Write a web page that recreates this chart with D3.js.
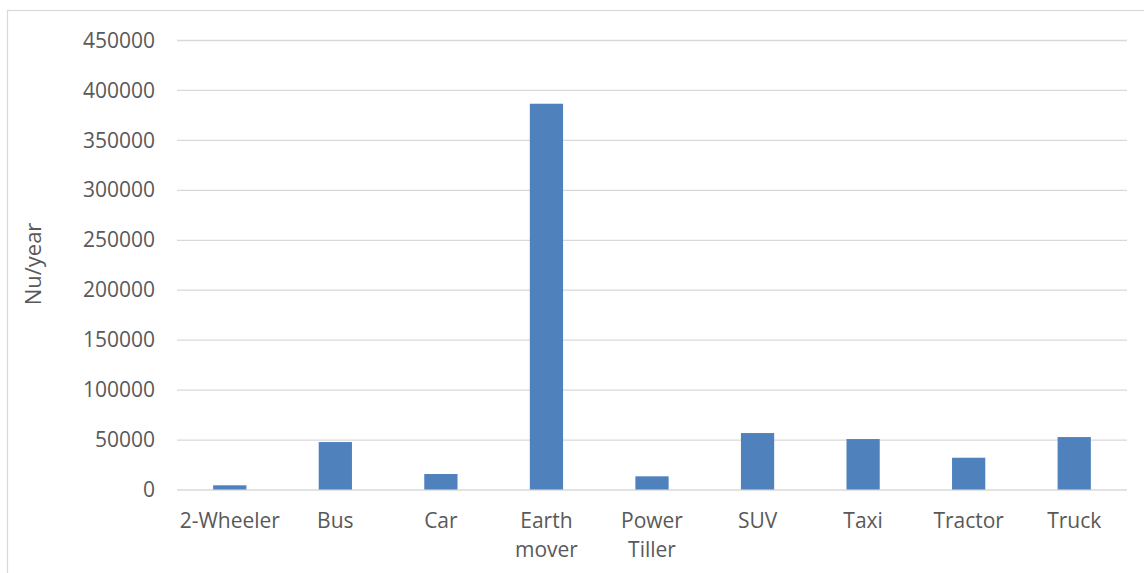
<!DOCTYPE html>
<html>
<head>
<meta charset="utf-8">
<script src="https://cdn.jsdelivr.net/npm/d3@7"></script>
<style>
  html, body { margin: 0; padding: 0; background: #fff; }
  svg { display: block; }
  text { font-family: "Open Sans", "Noto Sans", sans-serif; fill: #595959; }
</style>
</head>
<body>
<svg id="chart" width="1144" height="573"></svg>
<script>
// Annual cost per vehicle type (Nu/year)
const categories = ["2-Wheeler", "Bus", "Car", "Earth mover", "Power Tiller", "SUV", "Taxi", "Tractor", "Truck"];
const categoryLines = [["2-Wheeler"], ["Bus"], ["Car"], ["Earth", "mover"], ["Power", "Tiller"], ["SUV"], ["Taxi"], ["Tractor"], ["Truck"]];
const values = [4200, 47500, 15500, 386200, 13200, 56500, 50500, 31800, 52500];
const yTicks = [0, 50000, 100000, 150000, 200000, 250000, 300000, 350000, 400000, 450000];
const yTitle = "Nu/year";

const svg = d3.select("#chart");

// chart frame
svg.append("rect")
  .attr("x", 7.5).attr("y", 10.5)
  .attr("width", 1200).attr("height", 600)
  .attr("fill", "none").attr("stroke", "#d9d9d9").attr("stroke-width", 1.2);

const plot = { left: 177, right: 1127, top: 40, bottom: 489.5 };

const x = d3.scaleBand()
  .domain(categories)
  .range([plot.left, plot.right])
  .paddingInner(0.685)
  .paddingOuter(0.3425);

const y = d3.scaleLinear()
  .domain([0, 450000])
  .range([plot.bottom, plot.top]);

// gridlines
const yAxis = d3.axisLeft(y)
  .tickValues(yTicks)
  .tickSize(-(plot.right - plot.left))
  .tickPadding(22)
  .tickFormat(d3.format("d"));

const gy = svg.append("g")
  .attr("transform", `translate(${plot.left},0)`)
  .call(yAxis);
gy.select(".domain").remove();
gy.selectAll(".tick line").attr("stroke", "#d9d9d9").attr("stroke-width", 1.3);
gy.selectAll(".tick text")
  .attr("font-size", 21)
  .attr("dy", "0.34em")
  .style("fill", "#595959");

// bars
svg.append("g").selectAll("rect")
  .data(categories)
  .join("rect")
  .attr("x", d => x(d))
  .attr("width", x.bandwidth())
  .attr("y", (d, i) => y(values[i]))
  .attr("height", (d, i) => y(0) - y(values[i]))
  .attr("fill", "#4f81bd");

// category labels
const xl = svg.append("g").selectAll("text")
  .data(categories)
  .join("text")
  .attr("x", d => x(d) + x.bandwidth() / 2)
  .attr("y", 528)
  .attr("text-anchor", "middle")
  .attr("font-size", 21);
xl.each(function(d, i) {
  const t = d3.select(this);
  categoryLines[i].forEach((line, j) => {
    t.append("tspan")
      .attr("x", x(d) + x.bandwidth() / 2)
      .attr("dy", j === 0 ? 0 : 29)
      .text(line);
  });
});

// y axis title
svg.append("text")
  .attr("transform", `translate(41,264) rotate(-90)`)
  .attr("text-anchor", "middle")
  .attr("font-size", 22)
  .text(yTitle);
</script>
</body>
</html>
